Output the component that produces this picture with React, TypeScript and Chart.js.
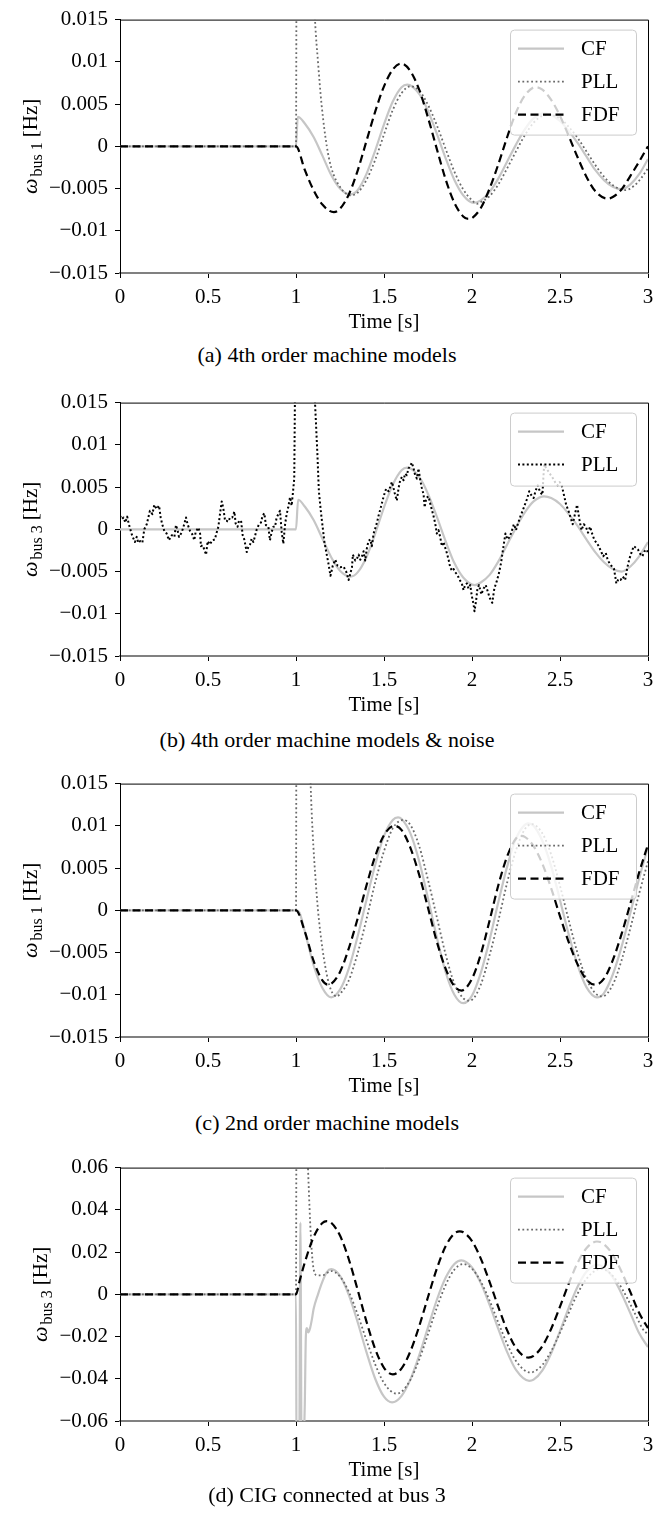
import React, { useEffect, useRef } from 'react';
import { Chart, registerables } from 'chart.js';

Chart.register(...registerables);

const FONT = '"Liberation Serif", "Times New Roman", serif';

// ---------- axes ----------
const X_TICKS = [0, 0.5, 1, 1.5, 2, 2.5, 3];
const X_TICK_LABELS = ['0', '0.5', '1', '1.5', '2', '2.5', '3'];
const Y_TICKS_S = [-0.015, -0.01, -0.005, 0, 0.005, 0.01, 0.015];
const Y_TICK_LABELS_S = ['\u22120.015', '\u22120.01', '\u22120.005', '0', '0.005', '0.01', '0.015'];
const Y_TICKS_D = [-0.06, -0.04, -0.02, 0, 0.02, 0.04, 0.06];
const Y_TICK_LABELS_D = ['\u22120.06', '\u22120.04', '\u22120.02', '0', '0.02', '0.04', '0.06'];

const X_TITLE = 'Time [s]';
const CAPTIONS = [
  '(a) 4th order machine models',
  '(b) 4th order machine models & noise',
  '(c) 2nd order machine models',
  '(d) CIG connected at bus 3',
];
const BUS_LABELS = ['bus 1', 'bus 3', 'bus 1', 'bus 3'];

// ---------- (a) 4th order machine models ----------
const A_CF_T = [0, 1.0, 1.01, 1.05, 1.10, 1.15, 1.20, 1.25, 1.31, 1.35, 1.40, 1.45, 1.50, 1.55, 1.60, 1.632, 1.70, 1.75, 1.80, 1.85, 1.90, 1.95, 2.01, 2.05, 2.10, 2.15, 2.20, 2.25, 2.30, 2.35, 2.41, 2.45, 2.50, 2.55, 2.60, 2.65, 2.70, 2.75, 2.80, 2.85, 2.90, 2.95, 3.0];
const A_CF_V = [0, 0, 0.0035, 0.0027, 0.0011, -0.0011, -0.0034, -0.005, -0.0057, -0.0052, -0.0033, -0.0005, 0.0026, 0.0053, 0.0070, 0.0073, 0.0062, 0.0042, 0.0015, -0.0014, -0.004, -0.0058, -0.0067, -0.0064, -0.0054, -0.0038, -0.0018, 0.0002, 0.002, 0.0033, 0.0039, 0.0037, 0.003, 0.0018, 0.0004, -0.0012, -0.0028, -0.004, -0.0048, -0.0051, -0.0045, -0.0033, -0.0015];

const A_PLL_T = [0, 1.0, 1.004, 1.05, 1.09, 1.108, 1.125, 1.145, 1.175, 1.2, 1.25, 1.31, 1.35, 1.40, 1.45, 1.50, 1.55, 1.60, 1.65, 1.70, 1.75, 1.80, 1.85, 1.90, 1.95, 2.00, 2.03, 2.05, 2.10, 2.15, 2.20, 2.25, 2.30, 2.35, 2.40, 2.44, 2.50, 2.55, 2.60, 2.65, 2.70, 2.75, 2.80, 2.87, 2.92, 2.96, 3.0];
const A_PLL_V = [0, 0, 0.03, 0.05, 0.025, 0.015, 0.01, 0.005, 0.0, -0.0025, -0.0048, -0.0058, -0.0055, -0.0040, -0.0016, 0.0014, 0.0043, 0.0063, 0.0071, 0.0066, 0.0049, 0.0025, -0.0003, -0.0030, -0.0051, -0.0064, -0.0068, -0.0066, -0.0059, -0.0045, -0.0026, -0.0006, 0.0013, 0.0028, 0.0036, 0.0037, 0.0033, 0.0023, 0.0010, -0.0006, -0.0022, -0.0036, -0.0046, -0.0052, -0.0047, -0.0038, -0.0026];

const A_FDF_T = [0, 1.0, 1.05, 1.10, 1.15, 1.215, 1.25, 1.30, 1.35, 1.40, 1.45, 1.50, 1.55, 1.597, 1.65, 1.70, 1.75, 1.80, 1.85, 1.90, 1.95, 1.98, 2.0, 2.05, 2.10, 2.15, 2.20, 2.25, 2.30, 2.36, 2.40, 2.45, 2.50, 2.55, 2.60, 2.65, 2.70, 2.77, 2.80, 2.85, 2.90, 2.95, 3.0];
const A_FDF_V = [0, 0, -0.0028, -0.0052, -0.0069, -0.0078, -0.0074, -0.0057, -0.0029, 0.0006, 0.0041, 0.0071, 0.0091, 0.0098, 0.0089, 0.0067, 0.0034, -0.0003, -0.0039, -0.0067, -0.0083, -0.0086, -0.0085, -0.0073, -0.005, -0.0021, 0.0011, 0.004, 0.006, 0.007, 0.0067, 0.0055, 0.0036, 0.0012, -0.0013, -0.0036, -0.0053, -0.0062, -0.006, -0.0051, -0.0035, -0.0018, 0.0];

// ---------- (b) 4th order machine models & noise ----------
const B_CF_T = [0, 1.0, 1.012, 1.05, 1.10, 1.15, 1.20, 1.25, 1.31, 1.35, 1.40, 1.45, 1.50, 1.55, 1.60, 1.632, 1.70, 1.75, 1.80, 1.85, 1.90, 1.95, 2.016, 2.05, 2.10, 2.15, 2.20, 2.25, 2.30, 2.35, 2.41, 2.45, 2.50, 2.55, 2.60, 2.65, 2.70, 2.75, 2.80, 2.85, 2.90, 2.95, 3.0];
const B_CF_V = [0, 0, 0.0035, 0.0027, 0.0011, -0.0011, -0.0033, -0.0049, -0.0056, -0.0051, -0.0033, -0.0005, 0.0026, 0.0053, 0.0070, 0.0073, 0.0062, 0.0042, 0.0015, -0.0014, -0.004, -0.0057, -0.0066, -0.0063, -0.0054, -0.0038, -0.0018, 0.0002, 0.002, 0.0033, 0.0039, 0.0037, 0.003, 0.0018, 0.0004, -0.0012, -0.0027, -0.0039, -0.0047, -0.005, -0.0044, -0.0032, -0.0015];

const B_PLL_T = [
  0.000, 0.010, 0.020, 0.030, 0.041, 0.049, 0.070, 0.085, 0.095, 0.104, 0.114, 0.127, 0.138, 0.152, 0.161, 0.170, 0.184, 0.195, 0.208, 0.222,
  0.231, 0.240, 0.252, 0.265, 0.278, 0.294, 0.309, 0.318, 0.328, 0.335, 0.350, 0.365, 0.375, 0.384, 0.398, 0.411, 0.422, 0.430, 0.445, 0.455,
  0.460, 0.470, 0.479, 0.489, 0.498, 0.511, 0.524, 0.539, 0.549, 0.559, 0.568, 0.578, 0.587, 0.597, 0.606, 0.616, 0.625, 0.638, 0.650, 0.657,
  0.668, 0.676, 0.688, 0.697, 0.706, 0.720, 0.729, 0.739, 0.748, 0.758, 0.767, 0.777, 0.790, 0.801, 0.810, 0.820, 0.829, 0.843, 0.852, 0.862,
  0.871, 0.881, 0.890, 0.900, 0.909, 0.919, 0.928, 0.938, 0.947, 0.956, 0.966, 0.975, 0.981, 0.990, 1.000, 1.050, 1.090, 1.108,
  1.122, 1.127, 1.130, 1.137, 1.145, 1.153, 1.162, 1.173, 1.183, 1.196, 1.209, 1.223, 1.236, 1.251, 1.270, 1.285, 1.299, 1.308, 1.318, 1.323,
  1.337, 1.346, 1.356, 1.365, 1.375, 1.384, 1.393, 1.403, 1.412, 1.422, 1.431, 1.441, 1.450, 1.460, 1.469, 1.482, 1.493, 1.501, 1.512, 1.526,
  1.535, 1.545, 1.554, 1.564, 1.573, 1.583, 1.592, 1.602, 1.611, 1.620, 1.630, 1.639, 1.649, 1.658, 1.668, 1.677, 1.687, 1.696, 1.706, 1.715,
  1.725, 1.731, 1.740, 1.753, 1.762, 1.772, 1.781, 1.791, 1.800, 1.810, 1.819, 1.829, 1.838, 1.848, 1.857, 1.867, 1.876, 1.886, 1.895, 1.905,
  1.914, 1.924, 1.933, 1.942, 1.952, 1.961, 1.971, 1.980, 1.990, 1.999, 2.009, 2.014, 2.023, 2.031, 2.040,
  2.053, 2.066, 2.078, 2.090, 2.100, 2.115, 2.127, 2.140, 2.152, 2.165, 2.176, 2.190, 2.202, 2.214, 2.226, 2.238, 2.250, 2.263, 2.276, 2.288,
  2.300, 2.313, 2.325, 2.338, 2.350, 2.362, 2.374, 2.387, 2.400, 2.410, 2.423, 2.436, 2.448, 2.461, 2.474, 2.486, 2.498, 2.510, 2.523, 2.535,
  2.548, 2.560, 2.572, 2.585, 2.597, 2.610, 2.622, 2.635, 2.647, 2.659, 2.671, 2.684, 2.696, 2.708, 2.720, 2.733, 2.745, 2.760, 2.771, 2.783,
  2.795, 2.807, 2.820, 2.832, 2.844, 2.857, 2.870, 2.882, 2.894, 2.907, 2.919, 2.931, 2.943, 2.956, 2.968, 2.980, 2.993, 3.000,
];
const B_PLL_V = [
  0.0016, 0.0012, 0.0014, 0.0008, 0.0015, 0.0007, -0.0008, -0.0015, -0.0009, -0.0016, -0.0014, -0.0016, 0.0, 0.0006, 0.0014, 0.0022, 0.0018, 0.0029, 0.0024, 0.0028,
  0.0014, 0.0006, -0.0002, -0.0005, -0.0013, -0.0007, -0.0009, 0.0005, -0.0002, -0.0009, -0.0004, 0.0006, 0.0014, 0.0006, -0.0002, -0.0006, -0.0013, -0.0003, 0.0002, -0.0005,
  -0.0020, -0.0019, -0.0024, -0.0030, -0.0014, -0.0018, -0.0013, -0.0012, -0.0004, 0.0003, 0.0018, 0.0033, 0.0025, 0.0010, 0.0010, 0.0009, 0.0014, 0.0014, 0.0021, 0.0007,
  0.0003, 0.0010, 0.0010, -0.0007, -0.0012, -0.0027, -0.0021, -0.0018, -0.0011, -0.0015, -0.0008, 0.0, 0.0006, 0.0008, 0.0016, 0.0019, 0.0005, 0.0003, -0.0013, -0.0003,
  0.0003, 0.0003, 0.0014, 0.0018, 0.0022, -0.0004, -0.0017, 0.0006, 0.0018, 0.0026, 0.0038, 0.0028, 0.0040, 0.0060, 0.0300, 0.0500, 0.0300, 0.0150,
  0.0087, 0.0060, 0.0045, 0.0030, 0.0014, 0.0, -0.0016, -0.0028, -0.0039, -0.0055, -0.0043, -0.0036, -0.0043, -0.0045, -0.0044, -0.0050, -0.0060, -0.0053, -0.0045, -0.0030,
  -0.0037, -0.0035, -0.0030, -0.0036, -0.0032, -0.0026, -0.0037, -0.0022, -0.0014, -0.0012, -0.0020, -0.0005, 0.0001, 0.0008, 0.0016, 0.0026, 0.0035, 0.0041, 0.0048, 0.0045,
  0.0050, 0.0056, 0.0049, 0.0040, 0.0034, 0.0049, 0.0058, 0.0062, 0.0058, 0.0066, 0.0064, 0.0072, 0.0075, 0.0079, 0.0072, 0.0064, 0.0060, 0.0072, 0.0058, 0.0049,
  0.0041, 0.0026, 0.0037, 0.0039, 0.0031, 0.0023, 0.0016, 0.0007, -0.0005, -0.0001, -0.0009, -0.0020, -0.0015, -0.0022, -0.0028, -0.0036, -0.0045, -0.0049, -0.0047, -0.0051,
  -0.0053, -0.0057, -0.0061, -0.0064, -0.0072, -0.0066, -0.0064, -0.0070, -0.0066, -0.0079, -0.0089, -0.0097, -0.0085, -0.0070, -0.0066,
  -0.0077, -0.0070, -0.0066, -0.0074, -0.0081, -0.0087, -0.0070, -0.0062, -0.0053, -0.0040, -0.0024, -0.0005, -0.0012, -0.0009, -0.0002, 0.0006, -0.0001, 0.0008, 0.0016, 0.0022,
  0.0029, 0.0036, 0.0045, 0.0040, 0.0037, 0.0046, 0.0052, 0.0044, 0.0041, 0.0077, 0.0072, 0.0068, 0.0064, 0.0060, 0.0055, 0.0052, 0.0056, 0.0052, 0.0040, 0.0029,
  0.0022, 0.0014, 0.0006, 0.0018, 0.0029, 0.0012, -0.0001, 0.0006, 0.0003, -0.0004, 0.0003, -0.0006, -0.0013, -0.0016, -0.0020, -0.0026, -0.0032, -0.0028, -0.0036, -0.0041,
  -0.0044, -0.0047, -0.0064, -0.0059, -0.0060, -0.0056, -0.0060, -0.0046, -0.0035, -0.0027, -0.0020, -0.0022, -0.0024, -0.0029, -0.0032, -0.0026, -0.0024, -0.0028,
];

// ---------- (c) 2nd order machine models ----------
const C_CF_T = [0, 1.0, 1.02, 1.05, 1.10, 1.15, 1.20, 1.25, 1.30, 1.35, 1.40, 1.45, 1.50, 1.55, 1.58, 1.60, 1.65, 1.70, 1.75, 1.80, 1.85, 1.90, 1.95, 2.00, 2.05, 2.10, 2.15, 2.20, 2.25, 2.32, 2.35, 2.40, 2.45, 2.50, 2.55, 2.60, 2.65, 2.71, 2.75, 2.80, 2.85, 2.90, 2.95, 3.0];
const C_CF_V = [0, 0, -0.0003, -0.0025, -0.0065, -0.0092, -0.0103, -0.0094, -0.0069, -0.0031, 0.0012, 0.0054, 0.0088, 0.0107, 0.011, 0.0108, 0.0091, 0.0058, 0.0014, -0.0032, -0.0073, -0.01, -0.011, -0.0101, -0.0074, -0.0035, 0.001, 0.0052, 0.0085, 0.0103, 0.01, 0.0082, 0.0052, 0.0012, -0.0029, -0.0065, -0.0091, -0.0103, -0.0098, -0.0076, -0.0043, -0.0003, 0.0038, 0.0075];

const C_PLL_T = [0, 1.0, 1.003, 1.04, 1.07, 1.083, 1.095, 1.11, 1.125, 1.15, 1.18, 1.20, 1.232, 1.25, 1.30, 1.35, 1.40, 1.45, 1.50, 1.55, 1.61, 1.65, 1.70, 1.75, 1.80, 1.85, 1.90, 1.95, 1.98, 2.0, 2.05, 2.10, 2.15, 2.20, 2.25, 2.30, 2.34, 2.40, 2.45, 2.50, 2.55, 2.60, 2.65, 2.70, 2.74, 2.80, 2.85, 2.90, 2.95, 3.0];
const C_PLL_V = [0, 0, 0.03, 0.05, 0.025, 0.015, 0.009, 0.004, 0.0, -0.0045, -0.0081, -0.0095, -0.0102, -0.0099, -0.0083, -0.0051, -0.0011, 0.0033, 0.007, 0.0097, 0.0107, 0.0101, 0.0076, 0.0036, -0.0008, -0.0052, -0.0087, -0.0104, -0.0107, -0.0106, -0.0088, -0.0053, -0.0012, 0.0033, 0.0071, 0.0096, 0.0102, 0.0091, 0.0066, 0.0029, -0.0012, -0.0051, -0.0081, -0.0098, -0.0102, -0.0088, -0.0059, -0.0021, 0.002, 0.0058];

const C_FDF_T = [0, 1.0, 1.05, 1.10, 1.15, 1.18, 1.20, 1.25, 1.30, 1.35, 1.40, 1.45, 1.50, 1.56, 1.60, 1.65, 1.70, 1.75, 1.80, 1.85, 1.90, 1.94, 2.0, 2.05, 2.10, 2.15, 2.20, 2.25, 2.28, 2.30, 2.35, 2.40, 2.45, 2.50, 2.55, 2.60, 2.65, 2.70, 2.75, 2.80, 2.85, 2.90, 2.95, 3.0];
const C_FDF_V = [0, 0, -0.0025, -0.006, -0.0083, -0.0088, -0.0087, -0.0073, -0.0045, -0.001, 0.0029, 0.0064, 0.0089, 0.01, 0.0095, 0.0074, 0.0042, 0.0003, -0.0037, -0.0069, -0.009, -0.0095, -0.0081, -0.0052, -0.0012, 0.003, 0.0064, 0.0085, 0.0088, 0.0087, 0.0076, 0.0055, 0.0026, -0.0007, -0.0038, -0.0064, -0.0082, -0.0088, -0.0081, -0.0059, -0.0028, 0.0008, 0.0045, 0.0078];

// ---------- (d) CIG connected at bus 3 ----------
const D_CF_T = [0, 1.0, 1.003, 1.018, 1.025, 1.032, 1.04, 1.045, 1.05, 1.056, 1.062, 1.07, 1.08, 1.09, 1.10, 1.125, 1.15, 1.175, 1.20, 1.25, 1.30, 1.35, 1.40, 1.45, 1.50, 1.546, 1.60, 1.65, 1.70, 1.75, 1.80, 1.85, 1.90, 1.94, 2.0, 2.05, 2.10, 2.15, 2.20, 2.25, 2.325, 2.35, 2.40, 2.45, 2.50, 2.55, 2.60, 2.65, 2.71, 2.75, 2.80, 2.85, 2.90, 2.95, 3.0];
const D_CF_V = [0, 0, -0.08, -0.08, 0.034, -0.08, -0.08, -0.07, -0.052, -0.02, -0.016, -0.018, -0.016, -0.012, -0.007, 0.0, 0.006, 0.0105, 0.0119, 0.0087, -0.0003, -0.0131, -0.0273, -0.04, -0.0485, -0.0512, -0.0481, -0.0403, -0.0289, -0.0157, -0.0027, 0.0078, 0.0144, 0.0161, 0.0127, 0.0053, -0.005, -0.0165, -0.0274, -0.0358, -0.041, -0.0404, -0.036, -0.0279, -0.0174, -0.0063, 0.0036, 0.0107, 0.014, 0.0128, 0.008, 0.0003, -0.009, -0.0185, -0.025];

const D_PLL_T = [0, 1.0, 1.003, 1.04, 1.068, 1.08, 1.09, 1.10, 1.12, 1.15, 1.20, 1.25, 1.30, 1.35, 1.40, 1.45, 1.50, 1.57, 1.60, 1.65, 1.70, 1.75, 1.80, 1.85, 1.90, 1.95, 2.0, 2.05, 2.10, 2.15, 2.20, 2.25, 2.33, 2.35, 2.40, 2.45, 2.50, 2.55, 2.60, 2.65, 2.73, 2.78, 2.83, 2.88, 2.93, 2.97, 3.0];
const D_PLL_V = [0, 0, 0.1, 0.12, 0.06, 0.035, 0.02, 0.012, 0.009, 0.009, 0.011, 0.0084, 0.0012, -0.0095, -0.0217, -0.0332, -0.042, -0.047, -0.0461, -0.0405, -0.0309, -0.0189, -0.0064, 0.0044, 0.0117, 0.0143, 0.0121, 0.006, -0.003, -0.0135, -0.0236, -0.0316, -0.037, -0.0367, -0.0334, -0.0269, -0.0182, -0.0087, 0.0003, 0.0073, 0.012, 0.0103, 0.0056, -0.0015, -0.0098, -0.0164, -0.019];

const D_FDF_T = [0, 1.0, 1.02, 1.05, 1.10, 1.15, 1.175, 1.20, 1.25, 1.30, 1.35, 1.40, 1.45, 1.50, 1.55, 1.60, 1.65, 1.70, 1.75, 1.80, 1.85, 1.90, 1.93, 1.95, 2.0, 2.05, 2.10, 2.15, 2.20, 2.25, 2.32, 2.35, 2.40, 2.45, 2.50, 2.55, 2.60, 2.65, 2.71, 2.75, 2.80, 2.85, 2.90, 2.95, 3.0];
const D_FDF_V = [0, 0, 0.0062, 0.0151, 0.0271, 0.0338, 0.0347, 0.0339, 0.0278, 0.0166, 0.0022, -0.0128, -0.0259, -0.0348, -0.0379, -0.0351, -0.027, -0.0151, -0.0013, 0.0121, 0.0227, 0.0288, 0.0298, 0.0294, 0.0252, 0.0169, 0.0059, -0.0061, -0.0171, -0.0254, -0.03, -0.0292, -0.0245, -0.0163, -0.0058, 0.0051, 0.0149, 0.0218, 0.025, 0.0237, 0.0187, 0.0107, 0.001, -0.0089, -0.016];

// ---------- styles ----------
type Style = { color: string; width: number; dash: number[]; straight?: boolean };
const CF_STYLE: Style = { color: '#c6c6c6', width: 2.2, dash: [] };
const PLL_STYLE: Style = { color: '#6a6a6a', width: 1.8, dash: [1.8, 2.6] };
const PLL_NOISE_STYLE: Style = { color: '#000000', width: 2, dash: [2, 2.4], straight: true };
const FDF_STYLE: Style = { color: '#000000', width: 2.2, dash: [8, 4.5] };

type Series = { name: string; t: number[]; v: number[]; style: Style; order: number };
type Panel = {
  canvasTop: number;
  yTicks: number[];
  yLabels: string[];
  bus: string;
  ylabelX: number;
  caption: string;
  captionY: number;
  series: Series[];
};

const PANELS: Panel[] = [
  {
    canvasTop: 0, yTicks: Y_TICKS_S, yLabels: Y_TICK_LABELS_S, bus: BUS_LABELS[0], ylabelX: 37,
    caption: CAPTIONS[0], captionY: 355,
    series: [
      { name: 'CF', t: A_CF_T, v: A_CF_V, style: CF_STYLE, order: 3 },
      { name: 'PLL', t: A_PLL_T, v: A_PLL_V, style: PLL_STYLE, order: 2 },
      { name: 'FDF', t: A_FDF_T, v: A_FDF_V, style: FDF_STYLE, order: 1 },
    ],
  },
  {
    canvasTop: 383, yTicks: Y_TICKS_S, yLabels: Y_TICK_LABELS_S, bus: BUS_LABELS[1], ylabelX: 37,
    caption: CAPTIONS[1], captionY: 740,
    series: [
      { name: 'CF', t: B_CF_T, v: B_CF_V, style: CF_STYLE, order: 3 },
      { name: 'PLL', t: B_PLL_T, v: B_PLL_V, style: PLL_NOISE_STYLE, order: 2 },
    ],
  },
  {
    canvasTop: 764, yTicks: Y_TICKS_S, yLabels: Y_TICK_LABELS_S, bus: BUS_LABELS[2], ylabelX: 37,
    caption: CAPTIONS[2], captionY: 1123,
    series: [
      { name: 'CF', t: C_CF_T, v: C_CF_V, style: CF_STYLE, order: 3 },
      { name: 'PLL', t: C_PLL_T, v: C_PLL_V, style: PLL_STYLE, order: 2 },
      { name: 'FDF', t: C_FDF_T, v: C_FDF_V, style: FDF_STYLE, order: 1 },
    ],
  },
  {
    canvasTop: 1148, yTicks: Y_TICKS_D, yLabels: Y_TICK_LABELS_D, bus: BUS_LABELS[3], ylabelX: 47,
    caption: CAPTIONS[3], captionY: 1495,
    series: [
      { name: 'CF', t: D_CF_T, v: D_CF_V, style: CF_STYLE, order: 3 },
      { name: 'PLL', t: D_PLL_T, v: D_PLL_V, style: PLL_STYLE, order: 2 },
      { name: 'FDF', t: D_FDF_T, v: D_FDF_V, style: FDF_STYLE, order: 1 },
    ],
  },
];

const CANVAS_W = 670;
const CANVAS_H = 335;

function labelFor(values: number[], labels: string[], v: number): string {
  for (let i = 0; i < values.length; i++) {
    if (Math.abs(values[i] - v) < 1e-9) return labels[i];
  }
  return '';
}

function PanelChart({ panel }: { panel: Panel }) {
  const ref = useRef<HTMLCanvasElement | null>(null);

  useEffect(() => {
    const canvas = ref.current;
    if (!canvas) return;

    const framePlugin = {
      id: 'frame',
      afterDraw(chart: any) {
        const { ctx, chartArea } = chart;
        const { left, right, top, bottom } = chartArea;
        ctx.save();
        // top and right spines
        ctx.strokeStyle = '#000';
        ctx.lineWidth = 1;
        ctx.setLineDash([]);
        ctx.beginPath();
        ctx.moveTo(left, top + 0.5);
        ctx.lineTo(right + 0.5, top + 0.5);
        ctx.lineTo(right + 0.5, bottom);
        ctx.stroke();

        // legend
        const n = panel.series.length;
        const lw = 126;
        const lh = n === 3 ? 105 : 73;
        const lx = right - 12 - lw;
        const ly = top + 10;
        ctx.beginPath();
        if (ctx.roundRect) ctx.roundRect(lx + 0.5, ly + 0.5, lw, lh, 4);
        else ctx.rect(lx + 0.5, ly + 0.5, lw, lh);
        ctx.fillStyle = 'rgba(255,255,255,0.8)';
        ctx.fill();
        ctx.strokeStyle = '#cccccc';
        ctx.lineWidth = 1;
        ctx.stroke();
        panel.series.forEach((s, i) => {
          const cy = ly + 19 + i * 33;
          ctx.beginPath();
          ctx.strokeStyle = s.style.color;
          ctx.lineWidth = s.style.width;
          ctx.setLineDash(s.style.dash);
          ctx.moveTo(lx + 8, cy);
          ctx.lineTo(lx + 54, cy);
          ctx.stroke();
          ctx.setLineDash([]);
          ctx.fillStyle = '#000';
          ctx.font = `21px ${FONT}`;
          ctx.textAlign = 'left';
          ctx.textBaseline = 'middle';
          ctx.fillText(s.name, lx + 71, cy + 1);
        });

        // x title
        ctx.fillStyle = '#000';
        ctx.font = `21px ${FONT}`;
        ctx.textAlign = 'center';
        ctx.textBaseline = 'middle';
        ctx.fillText(X_TITLE, (left + right) / 2, bottom + 49);

        // y title with subscript
        const parts = [
          { text: '\u03c9', font: `italic 22px ${FONT}`, dy: 0, gap: 2 },
          { text: panel.bus, font: `16px ${FONT}`, dy: 5, gap: 5 },
          { text: '[Hz]', font: `21px ${FONT}`, dy: 0, gap: 0 },
        ];
        let total = 0;
        const widths = parts.map((p) => {
          ctx.font = p.font;
          const w = ctx.measureText(p.text).width;
          total += w + p.gap;
          return w;
        });
        ctx.translate(panel.ylabelX, (top + bottom) / 2);
        ctx.rotate(-Math.PI / 2);
        ctx.textAlign = 'left';
        ctx.textBaseline = 'alphabetic';
        let x = -total / 2;
        parts.forEach((p, i) => {
          ctx.font = p.font;
          ctx.fillText(p.text, x, p.dy);
          x += widths[i] + p.gap;
        });
        ctx.restore();
      },
    };

    const chart = new Chart(canvas, {
      type: 'line',
      data: {
        datasets: panel.series.map((s) => ({
          label: s.name,
          data: s.t.map((t, i) => ({ x: t, y: s.v[i] })),
          borderColor: s.style.color,
          borderWidth: s.style.width,
          borderDash: s.style.dash,
          borderCapStyle: 'butt',
          borderJoinStyle: 'round',
          pointRadius: 0,
          fill: false,
          tension: s.style.straight ? 0 : 0.4,
          cubicInterpolationMode: s.style.straight ? 'default' : 'monotone',
          order: s.order,
        })),
      },
      options: {
        animation: false,
        responsive: false,
        events: [],
        layout: { padding: { top: 13, right: 22, left: 0, bottom: 0 } },
        plugins: {
          legend: { display: false },
          tooltip: { enabled: false },
          title: { display: false },
        },
        scales: {
          x: {
            type: 'linear',
            min: 0,
            max: 3,
            afterBuildTicks: (axis: any) => {
              axis.ticks = X_TICKS.map((value) => ({ value }));
            },
            afterFit: (axis: any) => {
              axis.height = 62;
            },
            ticks: {
              autoSkip: false,
              maxRotation: 0,
              padding: 7,
              color: '#000',
              font: { family: FONT, size: 21 },
              callback: (value: any) => labelFor(X_TICKS, X_TICK_LABELS, Number(value)),
            },
            grid: { display: true, drawOnChartArea: false, drawTicks: true, tickLength: 5, color: '#000', lineWidth: 1 },
            border: { display: true, color: '#808080', width: 2 },
          },
          y: {
            type: 'linear',
            min: panel.yTicks[0],
            max: panel.yTicks[panel.yTicks.length - 1],
            afterBuildTicks: (axis: any) => {
              axis.ticks = panel.yTicks.map((value) => ({ value }));
            },
            afterFit: (axis: any) => {
              axis.width = 120;
            },
            ticks: {
              autoSkip: false,
              padding: 7,
              color: '#000',
              font: { family: FONT, size: 21 },
              callback: (value: any) => labelFor(panel.yTicks, panel.yLabels, Number(value)),
            },
            grid: { display: true, drawOnChartArea: false, drawTicks: true, tickLength: 5, color: '#000', lineWidth: 1 },
            border: { display: true, color: '#000', width: 1 },
          },
        },
      } as any,
      plugins: [framePlugin],
    });

    return () => chart.destroy();
  }, [panel]);

  return (
    <canvas
      ref={ref}
      width={CANVAS_W}
      height={CANVAS_H}
      style={{ position: 'absolute', left: 0, top: panel.canvasTop, width: CANVAS_W, height: CANVAS_H }}
    />
  );
}

export default function App() {
  return (
    <div
      style={{
        position: 'absolute',
        left: 0,
        top: 0,
        width: 670,
        height: 1516,
        overflow: 'hidden',
        background: '#fff',
      }}
    >
      {PANELS.map((p, i) => (
        <React.Fragment key={i}>
          <PanelChart panel={p} />
          <div
            style={{
              position: 'absolute',
              left: 0,
              width: 654,
              top: p.captionY - 13,
              height: 26,
              lineHeight: '26px',
              textAlign: 'center',
              fontFamily: FONT,
              fontSize: 22,
              color: '#000',
              whiteSpace: 'nowrap',
            }}
          >
            {p.caption}
          </div>
        </React.Fragment>
      ))}
    </div>
  );
}
